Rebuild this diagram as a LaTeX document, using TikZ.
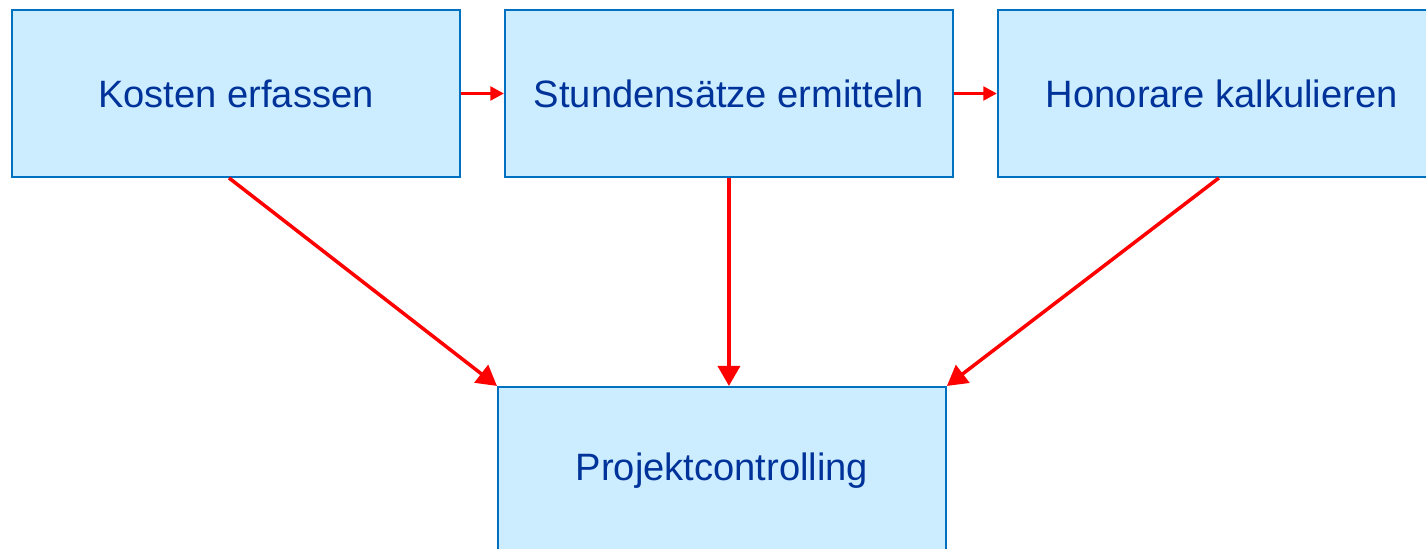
\documentclass[tikz,border=0pt]{standalone}
\usepackage{fontspec}
\setmainfont{Liberation Sans}
\usetikzlibrary{shapes,arrows.meta,positioning,calc}

\definecolor{boxfill}{RGB}{204,236,255}
\definecolor{boxline}{RGB}{0,112,192}
\definecolor{boxtext}{RGB}{0,51,153}

\begin{document}
\begin{tikzpicture}[auto, node distance=0.86cm]
\tikzset{
block/.style    = {draw=boxline, line width=1.1pt, shape=rectangle, fill=boxfill, text=boxtext, minimum height=3.34cm, minimum width=8.96cm, inner sep=0pt, align=center, font=\fontsize{21.7}{26}\selectfont},
flow/.style     = {draw=red, line width=2pt, -{Triangle[length=0.4cm,width=0.44cm]}},
hop/.style      = {draw=red, line width=1.9pt, -{Triangle[length=0.27cm,width=0.27cm]}},
}
    \useasboundingbox (0,0) rectangle (28.52,10.98);

    % Main nodes
    \node [block]                       at (4.72,9.11)  (costs)     {Kosten erfassen};
    \node [block, right=of costs]                       (rates)     {Stundensätze ermitteln};
    \node [block, right=of rates]                       (fees)      {Honorare kalkulieren};
    \node [block, below=4.16cm of rates, xshift=-0.14cm] (control)  {Projektcontrolling};

    % Main edges
    \draw [hop]   (costs)  --  (rates);
    \draw [hop]   (rates)  --  (fees);
    \draw [flow]  ($(costs.south)+(-0.14,0)$)  --  (control.north west);
    \draw [flow]  (rates.south)  --  (rates.south |- control.north);
    \draw [flow]  ($(fees.south)+(-0.06,0)$)   --  (control.north east);

\end{tikzpicture}
\end{document}
